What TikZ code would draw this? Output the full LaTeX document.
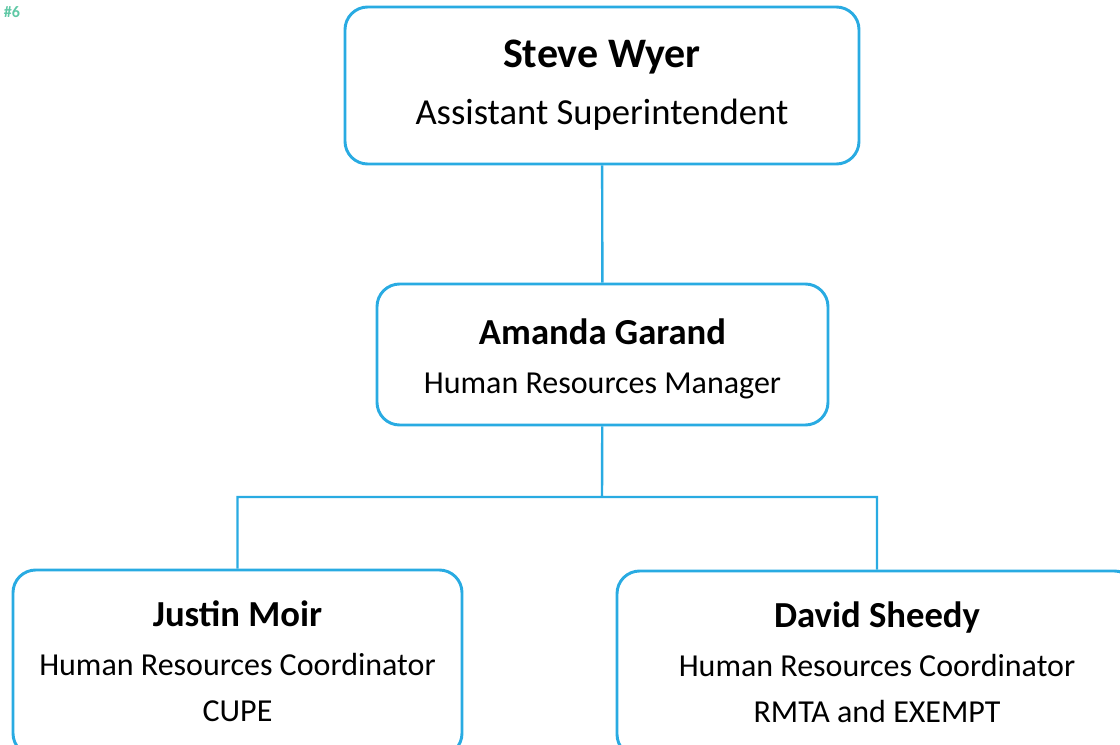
\documentclass[tikz,border=0pt]{standalone}
\usepackage{fontspec}
\setmainfont{Carlito}
\usetikzlibrary{positioning}
\definecolor{boxblue}{RGB}{41,171,226}
\definecolor{tagteal}{RGB}{95,200,165}

\begin{document}
\begin{tikzpicture}[x=0.75pt,y=-0.75pt]
\tikzstyle{person}=[rectangle, rounded corners=17pt, draw=boxblue, line width=2.2pt, align=center, inner sep=0pt, font=\fontsize{24}{37}\selectfont]
\tikzstyle{connect}=[draw=boxblue, line width=1.8pt]
\useasboundingbox (0,0) rectangle (1120,745);
\node[text=tagteal, font=\bfseries\fontsize{12}{13}\selectfont] (tag) at (12,12) {\#6};
  % top of the chart
\node[person, minimum width=385.5pt, minimum height=117.75pt, font=\fontsize{27.5}{43}\selectfont] (wyer) at (602,85.5)
  {{\bfseries\fontsize{31.5}{36}\selectfont Steve Wyer}\\Assistant Superintendent\rule[-3.75pt]{0pt}{0pt}};
\node[person, minimum width=338.25pt, minimum height=105.75pt] (garand) at (602.5,354.5)
  {{\bfseries\fontsize{27.5}{32}\selectfont\rule{0pt}{26pt}Amanda Garand}\\Human Resources Manager};
  % coordinators
\node[person, minimum width=336.75pt, minimum height=139.5pt] (moir) at (237.5,663)
  {{\bfseries\fontsize{27.5}{32}\selectfont Justin Moir}\\Human Resources Coordinator\\[-2.5pt]CUPE\rule[-3pt]{0pt}{0pt}};
\node[person, minimum width=390pt, minimum height=139.5pt] (sheedy) at (877,664)
  {{\bfseries\fontsize{27.5}{32}\selectfont David Sheedy}\\Human Resources Coordinator\\[-2.5pt]RMTA and EXEMPT\rule[-3pt]{0pt}{0pt}};
\coordinate (split) at (602,497);
\path[connect] (wyer) -- (garand)
  (garand) -- (split) -| (moir)
  (split) -| (sheedy);
\end{tikzpicture}
\end{document}
